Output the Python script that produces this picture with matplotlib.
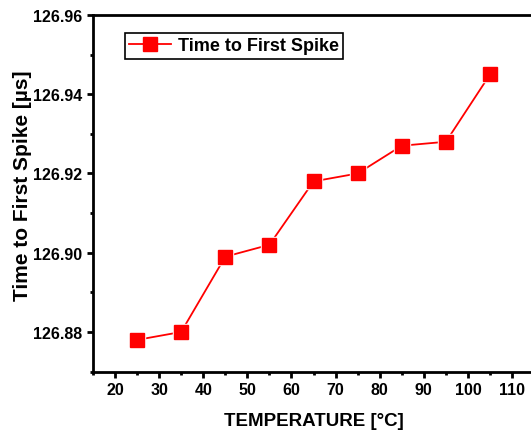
import matplotlib
matplotlib.use('Agg')
import matplotlib.pyplot as plt
from matplotlib.ticker import MultipleLocator, FormatStrFormatter

plt.rcParams['font.family'] = ['Liberation Sans', 'DejaVu Sans']
plt.rcParams['font.weight'] = 'bold'

temperature = [25, 35, 45, 55, 65, 75, 85, 95, 105]
spike_time = [126.878, 126.880, 126.899, 126.902, 126.918, 126.920, 126.927, 126.928, 126.945]

fig = plt.figure(figsize=(5.31, 4.31), dpi=100)
ax = fig.add_axes([0.175, 0.1355, 0.831, 0.8275])

ax.plot(temperature, spike_time, color='red', lw=1.3, zorder=2)
ax.plot(temperature, spike_time, ls='none', marker='s', ms=12, mfc='white', mec='white', zorder=3)
ax.plot(temperature, spike_time, ls='none', marker='s', ms=9.5, mfc='red', mec='red', zorder=4)
# legend proxy
ax.plot([], [], color='red', lw=1.3, marker='s', ms=9.5, mfc='red', mec='red', label='Time to First Spike')

ax.set_xlim(15, 115)
ax.set_ylim(126.87, 126.96)
ax.xaxis.set_major_locator(MultipleLocator(10))
ax.xaxis.set_minor_locator(MultipleLocator(5))
ax.yaxis.set_major_locator(MultipleLocator(0.02))
ax.yaxis.set_minor_locator(MultipleLocator(0.01))
ax.yaxis.set_major_formatter(FormatStrFormatter('%.2f'))

for s in ax.spines.values():
    s.set_linewidth(2)
ax.tick_params(which='major', direction='out', length=4.5, width=2, labelsize=11.5, pad=3)
ax.tick_params(which='minor', direction='out', length=2.5, width=2)
for lbl in ax.get_xticklabels() + ax.get_yticklabels():
    lbl.set_fontweight('bold')

ax.set_xlabel('TEMPERATURE [°C]', fontsize=13.5, fontweight='bold', labelpad=11)
ax.set_ylabel('Time to First Spike [µs]', fontsize=15, fontweight='bold')
ax.yaxis.set_label_coords(-0.138, 0.523)

leg = ax.legend(loc='upper left', bbox_to_anchor=(0.072, 0.95), fancybox=False, framealpha=1,
                edgecolor='black', fontsize=13, handlelength=2.3, borderpad=0.25,
                handletextpad=0.4, borderaxespad=0)
leg.get_frame().set_linewidth(1.2)
for t in leg.get_texts():
    t.set_fontweight('bold')

fig.savefig('out.png', dpi=100)
